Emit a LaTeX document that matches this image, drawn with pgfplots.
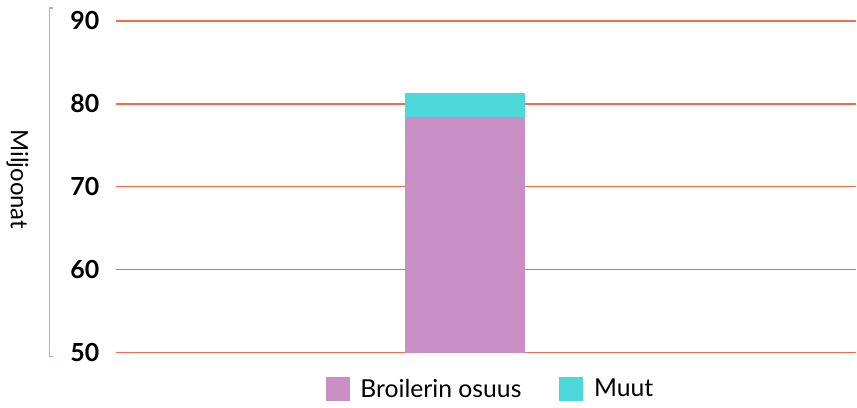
\documentclass[border=0pt]{standalone}
\usepackage{fontspec}
\setmainfont{Lato}
\usepackage{pgfplots}
\pgfplotsset{compat=1.18}

\definecolor{broiler}{HTML}{C88FC5}
\definecolor{muut}{HTML}{4DD9D9}
\definecolor{gridred}{HTML}{F26B4A}
\definecolor{bracket}{HTML}{D39AD3}

\begin{document}
\begin{tikzpicture}
\begin{axis}[
    scale only axis,
    width=371.5pt,
    height=166.5pt,
    at={(0,0)}, anchor=south west,
    ybar stacked,
    bar width=60pt,
    xmin=-1, xmax=1.123,
    ymin=50, ymax=90,
    ytick={50,60,70,80,90},
    xtick=\empty,
    axis line style={draw=none},
    ymajorgrids,
    major grid style={draw=gridred, line width=0.75pt},
    ytick style={draw=none},
    /pgf/number format/assume math mode=true,
    yticklabel style={font=\fontsize{12.5}{14}\selectfont\bfseries, anchor=east, xshift=-5pt},
    clip=false,
    legend columns=2,
    legend style={
        at={(0.507,-0.111)}, anchor=center,
        draw=none, fill=none,
        font=\fontsize{12.4}{14}\selectfont,
        /tikz/every even column/.append style={column sep=17pt},
        /tikz/every odd column/.append style={column sep=3.5pt},
    },
    legend image code/.code={\fill[#1] (0pt,-6pt) rectangle (12pt,6pt);},
]
\addplot[fill=broiler, draw=none] coordinates {(0,78.4)};
\addlegendentry{Broilerin osuus}
\addplot[fill=muut, draw=none] coordinates {(0,2.9)};
\addlegendentry{Muut}
\end{axis}
% bracket along the y axis
\draw[bracket, line width=0.6pt] (-31.5pt,173pt) -- (-33.5pt,173pt) -- (-33.5pt,-2pt) -- (-31.5pt,-2pt);
\node[rotate=-90, font=\fontsize{12}{14}\selectfont] at (-49.5pt,87pt) {Miljoonat};
\path[use as bounding box] (-57pt,-25.5pt) rectangle (371.5pt,177pt);
\end{tikzpicture}
\end{document}
